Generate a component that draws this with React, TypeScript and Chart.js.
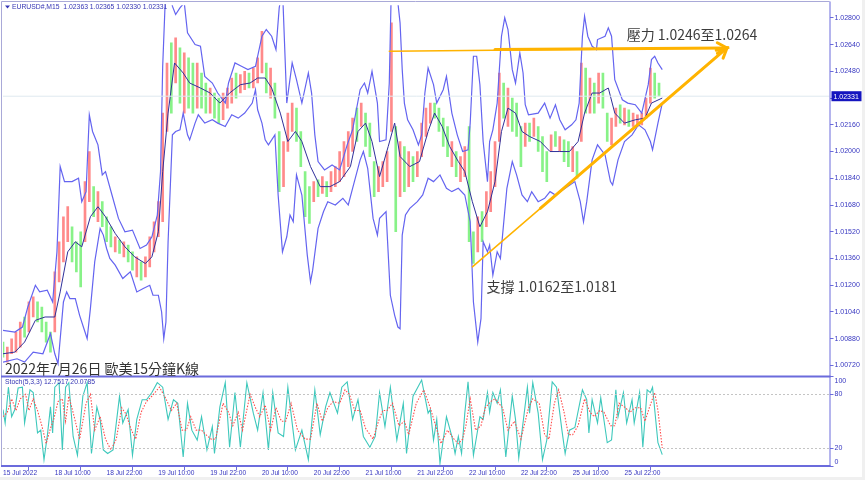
import React, { useEffect, useRef } from 'react';
import { Chart, registerables } from 'chart.js';

Chart.register(...registerables);

// ---------------- texts ----------------
const chartTitle = 'EURUSD#,M15  1.02363 1.02365 1.02330 1.02331';
const chartCaption = '2022年7月26日 歐美15分鐘K線';
const stochTitle = 'Stoch(5,3,3) 12.7517 20.0785';
const resistText = '壓力 1.0246至1.0264';
const supportText = '支撐 1.0162至1.0181';
const lastClose = 1.02331;

// ---------------- axes ----------------
const timeTickIdx = [0, 48, 96, 144, 192, 240, 288, 336, 384, 432, 480, 528, 576];
const timeLabels = [
  '15 Jul 2022', '18 Jul 10:00', '18 Jul 22:00', '19 Jul 10:00', '19 Jul 22:00',
  '20 Jul 10:00', '20 Jul 22:00', '21 Jul 10:00', '21 Jul 22:00', '22 Jul 10:00',
  '22 Jul 22:00', '25 Jul 10:00', '25 Jul 22:00',
];
const priceTicks = [1.0072, 1.0088, 1.0104, 1.012, 1.0136, 1.0152, 1.0168, 1.0184, 1.02, 1.0216, 1.0232, 1.0248, 1.0264, 1.028];
const stochTicks = [0, 20, 80, 100];
const stochLevels = [80, 20];

// ---------------- candles (hourly groups of M15 bars) ----------------
const barsPerCandle = 4;
const candleOpen = [
  1.0086, 1.0074, 1.0079, 1.0080, 1.0083, 1.0101, 1.0092, 1.0101, 1.0110, 1.0107,
  1.0098, 1.0092, 1.0092, 1.0122, 1.0134, 1.0146, 1.0155, 1.0146, 1.0152, 1.0146,
  1.0170, 1.0179, 1.0158, 1.0170, 1.0161, 1.0155, 1.0140, 1.0147, 1.0137, 1.0144,
  1.0140, 1.0125, 1.0134, 1.0125, 1.0131, 1.0140, 1.0149, 1.0158, 1.0212, 1.0265,
  1.0241, 1.0262, 1.0223, 1.0256, 1.0253, 1.0226, 1.0247, 1.0241, 1.0223, 1.0235,
  1.0232, 1.0219, 1.0226, 1.0229, 1.0247, 1.0235, 1.0237, 1.0247, 1.0238, 1.0241,
  1.0247, 1.0253, 1.0232, 1.0241, 1.0212, 1.0179, 1.0200, 1.0212, 1.0226, 1.0212,
  1.0188, 1.0179, 1.0170, 1.0183, 1.0175, 1.0182, 1.0176, 1.0179, 1.0182, 1.0185,
  1.0191, 1.0200, 1.0226, 1.0215, 1.0223, 1.0217, 1.0194, 1.0176, 1.0179, 1.0182,
  1.0212, 1.0215, 1.0173, 1.0203, 1.0179, 1.0197, 1.0185, 1.0197, 1.0209, 1.0217,
  1.0229, 1.0226, 1.0220, 1.0215, 1.0191, 1.0200, 1.0182, 1.0185, 1.0215, 1.0152,
  1.0140, 1.0164, 1.0155, 1.0164, 1.0179, 1.0206, 1.0241, 1.0215, 1.0232, 1.0229,
  1.0215, 1.0203, 1.0217, 1.0209, 1.0215, 1.0209, 1.0200, 1.0200, 1.0212, 1.0200,
  1.0207, 1.0206, 1.0188, 1.0200, 1.0206, 1.0250, 1.0223, 1.0241, 1.0229, 1.0247,
  1.0223, 1.0204, 1.0215, 1.0228, 1.0216, 1.0225, 1.0215, 1.0215, 1.0216, 1.0220,
  1.0229, 1.0247, 1.0241,
];
const candleClose = [
  1.0077, 1.0083, 1.0088, 1.0092, 1.0098, 1.0089, 1.0110, 1.0113, 1.0098, 1.0092,
  1.0086, 1.0080, 1.0128, 1.0146, 1.0161, 1.0167, 1.0134, 1.0128, 1.0119, 1.0182,
  1.0200, 1.0161, 1.0176, 1.0155, 1.0146, 1.0143, 1.0149, 1.0139, 1.0146, 1.0134,
  1.0129, 1.0137, 1.0123, 1.0137, 1.0149, 1.0158, 1.0170, 1.0223, 1.0253, 1.0223,
  1.0268, 1.0229, 1.0259, 1.0226, 1.0223, 1.0253, 1.0226, 1.0223, 1.0238, 1.0220,
  1.0217, 1.0235, 1.0238, 1.0244, 1.0232, 1.0246, 1.0248, 1.0238, 1.0250, 1.0256,
  1.0272, 1.0235, 1.0250, 1.0220, 1.0176, 1.0206, 1.0223, 1.0229, 1.0206, 1.0191,
  1.0161, 1.0157, 1.0182, 1.0173, 1.0185, 1.0173, 1.0188, 1.0191, 1.0200, 1.0206,
  1.0212, 1.0220, 1.0206, 1.0229, 1.0203, 1.0197, 1.0173, 1.0191, 1.0194, 1.0200,
  1.0277, 1.0152, 1.0206, 1.0176, 1.0200, 1.0182, 1.0200, 1.0217, 1.0226, 1.0229,
  1.0220, 1.0212, 1.0203, 1.0197, 1.0206, 1.0185, 1.0197, 1.0203, 1.0146, 1.0133,
  1.0161, 1.0146, 1.0176, 1.0188, 1.0206, 1.0247, 1.0220, 1.0238, 1.0212, 1.0209,
  1.0191, 1.0217, 1.0206, 1.0220, 1.0200, 1.0188, 1.0182, 1.0210, 1.0203, 1.0209,
  1.0194, 1.0191, 1.0203, 1.0184, 1.0253, 1.0223, 1.0244, 1.0223, 1.0247, 1.0226,
  1.0206, 1.0220, 1.0226, 1.0217, 1.0226, 1.0215, 1.0223, 1.0222, 1.0223, 1.0232,
  1.0250, 1.0232, 1.02331,
];

// ---------------- Bollinger bands: [M15 bar index, price] ----------------
const upperBand = [
  [0, 1.0093], [11, 1.0092], [18, 1.0095], [23, 1.0107], [30, 1.012], [34, 1.0116], [41, 1.0117], [46, 1.011],
  [50, 1.014], [53, 1.0191], [57, 1.0182], [64, 1.0182], [70, 1.0184], [73, 1.017], [77, 1.0176], [80, 1.0222],
  [83, 1.0212], [88, 1.0204], [92, 1.0186], [95, 1.0188], [101, 1.0174], [107, 1.016], [113, 1.0152], [120, 1.0153],
  [127, 1.0142], [133, 1.0144], [138, 1.0149], [143, 1.0162], [146, 1.0188], [148, 1.0251], [151, 1.0301], [155, 1.0295],
  [157, 1.0287], [160, 1.0282], [164, 1.0286], [168, 1.0289], [171, 1.0271], [178, 1.0264], [183, 1.0263], [187, 1.0245],
  [194, 1.0241], [199, 1.0235], [206, 1.0229], [209, 1.0241], [215, 1.0253], [221, 1.0251], [227, 1.0249], [234, 1.0251],
  [240, 1.0269], [244, 1.0273], [249, 1.0269], [253, 1.0261], [256, 1.0286], [259, 1.0298], [263, 1.0229], [268, 1.0253],
  [272, 1.0243], [277, 1.0229], [283, 1.0247], [286, 1.0235], [289, 1.021], [292, 1.0194], [298, 1.0189], [305, 1.0192],
  [312, 1.0189], [319, 1.0204], [324, 1.0213], [331, 1.0237], [335, 1.0241], [338, 1.0235], [342, 1.0248], [347, 1.0229],
  [349, 1.0206], [355, 1.0207], [358, 1.0241], [360, 1.0301], [364, 1.0301], [368, 1.0277], [370, 1.0249], [372, 1.0229],
  [375, 1.0219], [380, 1.0213], [385, 1.0204], [388, 1.021], [391, 1.0235], [394, 1.025], [399, 1.024], [402, 1.0229],
  [408, 1.0237], [411, 1.0245], [416, 1.0223], [421, 1.021], [426, 1.02], [431, 1.0201], [433, 1.0217], [436, 1.0257],
  [439, 1.0257], [442, 1.024], [445, 1.0206], [449, 1.0182], [451, 1.0206], [454, 1.0213], [458, 1.0229], [462, 1.0269],
  [465, 1.028], [468, 1.0273], [472, 1.0249], [475, 1.0241], [479, 1.0259], [482, 1.0247], [484, 1.0228], [487, 1.0222],
  [496, 1.0223], [502, 1.0229], [507, 1.022], [512, 1.0228], [516, 1.0219], [521, 1.0213], [527, 1.0216], [531, 1.0219],
  [534, 1.0229], [537, 1.0269], [539, 1.0281], [542, 1.0269], [546, 1.0263], [550, 1.0261], [551, 1.0267], [558, 1.0269],
  [561, 1.0274], [564, 1.0269], [567, 1.0243], [574, 1.0231], [579, 1.0229], [586, 1.0228], [592, 1.0223], [598, 1.024],
  [601, 1.0255], [604, 1.0257], [607, 1.0253], [611, 1.0249],
];
const middleBand = [
  [0, 1.0079], [11, 1.008], [20, 1.0086], [30, 1.0099], [39, 1.0101], [48, 1.0101], [53, 1.0116], [60, 1.014],
  [67, 1.0146], [73, 1.0143], [81, 1.0161], [88, 1.0167], [95, 1.0161], [104, 1.0151], [113, 1.0143], [122, 1.0137],
  [132, 1.0133], [138, 1.0137], [144, 1.0152], [148, 1.0188], [153, 1.0223], [159, 1.0253], [167, 1.0247], [173, 1.0241],
  [183, 1.0238], [192, 1.0235], [201, 1.0229], [210, 1.0235], [220, 1.024], [229, 1.0241], [236, 1.0244], [243, 1.0244],
  [249, 1.0238], [257, 1.0223], [264, 1.0206], [271, 1.0212], [277, 1.0206], [285, 1.0191], [294, 1.0179], [303, 1.0179],
  [312, 1.0182], [322, 1.0191], [329, 1.0212], [336, 1.0217], [342, 1.0206], [349, 1.0185], [357, 1.0203], [363, 1.0217],
  [368, 1.0197], [377, 1.0191], [386, 1.0194], [394, 1.0212], [400, 1.0223], [407, 1.0215], [414, 1.0203], [422, 1.0194],
  [428, 1.0188], [435, 1.017], [442, 1.0155], [449, 1.0164], [456, 1.0182], [462, 1.0212], [468, 1.0226], [475, 1.0223],
  [481, 1.0212], [488, 1.0209], [498, 1.0206], [507, 1.02], [516, 1.02], [525, 1.02], [533, 1.0206], [539, 1.0223],
  [546, 1.0235], [553, 1.0235], [561, 1.0238], [567, 1.0223], [576, 1.0217], [586, 1.0219], [595, 1.022], [601, 1.0229],
  [611, 1.0232],
];
const lowerBand = [
  [0, 1.0074], [13, 1.0076], [20, 1.0074], [28, 1.008], [37, 1.0079], [44, 1.0091], [48, 1.0079], [51, 1.0073],
  [56, 1.011], [59, 1.0116], [62, 1.0112], [67, 1.0112], [71, 1.0102], [76, 1.0092], [78, 1.0088], [81, 1.0106],
  [85, 1.0134], [90, 1.0154], [93, 1.015], [96, 1.0142], [99, 1.0136], [104, 1.0132], [111, 1.0124], [118, 1.0128],
  [124, 1.0116], [130, 1.0118], [136, 1.012], [139, 1.0114], [144, 1.0114], [147, 1.0104], [149, 1.0088], [151, 1.0098],
  [153, 1.0146], [157, 1.021], [160, 1.0212], [164, 1.0213], [167, 1.0223], [171, 1.021], [173, 1.0207], [178, 1.0217],
  [181, 1.0222], [187, 1.0217], [194, 1.0219], [199, 1.0217], [206, 1.0215], [212, 1.0222], [218, 1.022], [224, 1.0223],
  [231, 1.0229], [234, 1.0237], [236, 1.0225], [240, 1.0217], [243, 1.0207], [246, 1.0204], [252, 1.021], [255, 1.0174],
  [259, 1.014], [263, 1.0149], [266, 1.0162], [269, 1.0158], [272, 1.0186], [277, 1.0174], [282, 1.0138], [285, 1.0122],
  [287, 1.0129], [292, 1.0154], [297, 1.0164], [301, 1.017], [308, 1.0168], [315, 1.0172], [320, 1.0168], [324, 1.0178],
  [331, 1.0195], [334, 1.02], [338, 1.019], [343, 1.016], [347, 1.015], [349, 1.016], [355, 1.0164], [359, 1.0114],
  [363, 1.0102], [366, 1.0095], [368, 1.0094], [370, 1.015], [373, 1.0162], [377, 1.0166], [384, 1.017], [389, 1.0174],
  [394, 1.0184], [399, 1.0182], [405, 1.0186], [411, 1.0178], [416, 1.0176], [422, 1.0178], [428, 1.0174], [433, 1.0158],
  [436, 1.011], [440, 1.0086], [443, 1.01], [445, 1.0146], [449, 1.014], [451, 1.0144], [454, 1.0126], [458, 1.014],
  [461, 1.0136], [463, 1.015], [467, 1.0178], [472, 1.0194], [476, 1.0186], [481, 1.0174], [486, 1.017], [490, 1.0176],
  [496, 1.017], [502, 1.0172], [507, 1.0176], [512, 1.0174], [521, 1.0178], [530, 1.0182], [535, 1.017], [538, 1.0158],
  [541, 1.017], [546, 1.0195], [551, 1.0204], [558, 1.0198], [563, 1.0182], [565, 1.018], [570, 1.0195], [576, 1.0206],
  [583, 1.021], [589, 1.0216], [595, 1.0213], [600, 1.0206], [602, 1.0201], [607, 1.0217], [611, 1.0229],
];

// ---------------- Stochastic (5,3,3): [M15 bar index, value] ----------------
const stochMain = [
  [0, 63], [2, 48], [5, 88], [8, 55], [11, 63], [14, 87], [18, 88], [20, 48], [25, 85], [28, 82], [32, 37], [35, 40],
  [38, 7], [41, 33], [44, 66], [46, 37], [48, 88], [52, 93], [55, 18], [58, 88], [61, 93], [65, 33], [69, 12], [74, 78],
  [78, 93], [82, 14], [87, 66], [90, 52], [93, 18], [97, 14], [102, 18], [108, 78], [111, 48], [116, 63], [120, 12],
  [124, 52], [129, 74], [133, 74], [138, 82], [143, 93], [148, 88], [153, 52], [158, 74], [162, 70], [167, 10], [171, 70],
  [175, 40], [180, 29], [184, 55], [189, 18], [194, 44], [196, 14], [201, 66], [206, 93], [210, 21], [215, 82], [220, 21],
  [226, 93], [232, 59], [236, 40], [241, 82], [246, 18], [250, 82], [255, 37], [260, 33], [264, 88], [271, 18], [277, 40],
  [283, 7], [289, 85], [294, 35], [299, 66], [303, 82], [310, 59], [314, 88], [319, 94], [324, 52], [329, 74], [334, 33],
  [340, 21], [345, 33], [349, 82], [354, 44], [359, 88], [365, 29], [371, 70], [374, 14], [380, 78], [388, 96], [394, 59],
  [396, 63], [399, 29], [402, 52], [405, 3], [411, 55], [416, 33], [419, 14], [422, 33], [425, 14], [428, 59], [431, 94],
  [436, 12], [442, 55], [445, 52], [449, 82], [451, 60], [454, 82], [458, 70], [461, 85], [466, 10], [472, 78], [475, 52],
  [478, 9], [486, 88], [488, 59], [491, 93], [496, 59], [500, 7], [504, 29], [509, 94], [513, 88], [518, 40], [521, 14],
  [525, 40], [530, 43], [537, 85], [541, 74], [543, 37], [546, 74], [551, 48], [554, 76], [560, 26], [564, 29], [568, 85],
  [570, 55], [575, 82], [578, 48], [583, 74], [585, 48], [590, 82], [593, 21], [597, 85], [600, 82], [602, 88], [607, 26],
  [611, 12.7517],
];
const stochSignal = [
  [0, 55], [4, 60], [8, 75], [12, 62], [16, 75], [21, 80], [24, 62], [28, 75], [32, 62], [36, 45], [40, 25], [44, 42],
  [47, 52], [51, 72], [55, 75], [58, 50], [61, 78], [66, 55], [71, 30], [77, 70], [81, 80], [85, 40], [90, 55], [95, 30],
  [100, 18], [105, 30], [110, 65], [114, 58], [119, 40], [123, 30], [128, 60], [133, 72], [138, 78], [145, 88], [151, 75],
  [156, 62], [161, 70], [166, 40], [170, 40], [174, 55], [179, 40], [184, 40], [188, 35], [193, 30], [197, 30], [204, 70],
  [209, 60], [213, 45], [218, 60], [222, 40], [229, 80], [234, 65], [238, 55], [243, 68], [248, 40], [253, 65], [258, 50],
  [262, 50], [267, 70], [273, 40], [280, 30], [285, 30], [291, 70], [296, 50], [301, 65], [306, 72], [312, 70], [317, 85],
  [321, 80], [326, 62], [331, 62], [336, 42], [343, 30], [348, 50], [352, 62], [356, 62], [361, 70], [367, 45], [372, 50],
  [376, 35], [383, 70], [390, 85], [396, 65], [401, 45], [406, 25], [412, 40], [418, 30], [422, 25], [426, 30], [429, 45],
  [433, 75], [438, 40], [443, 45], [447, 65], [452, 72], [456, 75], [463, 65], [468, 40], [474, 50], [480, 30], [487, 65],
  [491, 75], [497, 70], [502, 35], [506, 30], [511, 70], [515, 85], [520, 60], [524, 35], [528, 35], [533, 45], [539, 75],
  [544, 60], [548, 55], [553, 62], [557, 60], [563, 45], [567, 45], [571, 70], [577, 65], [581, 60], [586, 65], [591, 65],
  [595, 50], [599, 65], [604, 82], [607, 62], [611, 20.0785],
];

// ---------------- drawn trend lines: [bar index, price] ----------------
const resistThin = [[358, 1.026], [671, 1.0262]];
const resistArrow = [[456, 1.0261], [671, 1.0262]];
const supportThin = [[435, 1.0131], [671, 1.0262]];
const supportArrow = [[498, 1.0166], [671, 1.0262]];
const resistTextPos = [578, 1.027];
const supportTextPos = [448, 1.0119];

const AXIS = '#6b6bdc';
const TEXT = '#3636c0';
const UP = '#ff8a8a';
const DOWN = '#88f288';
const BAND = '#6464f0';
const MID = '#30309a';
const STOCH = '#3ec8bc';
const SIGNAL = '#ff4c4c';
const AMBER = '#ffb300';
const SMALL = '"Liberation Sans", Arial, sans-serif';
const CJK = '"Noto Sans CJK TC", "Noto Sans CJK SC", sans-serif';

export default function App() {
  const ref = useRef<HTMLCanvasElement | null>(null);

  useEffect(() => {
    document.body.style.margin = '0';
    const canvas = ref.current;
    if (!canvas) return;

    const pts = (arr: number[][]) => arr.map(([x, y]) => ({ x, y }));
    const candles = candleOpen.map((o, i) => ({ x: i * barsPerCandle, y: [o, candleClose[i]] }));

    const arrowHead = (ctx: any, x1: number, y1: number, x2: number, y2: number, len: number) => {
      const a = Math.atan2(y2 - y1, x2 - x1);
      ctx.beginPath();
      ctx.moveTo(x2 - len * Math.cos(a - 0.5), y2 - len * Math.sin(a - 0.5));
      ctx.lineTo(x2, y2);
      ctx.lineTo(x2 - len * Math.cos(a + 0.5), y2 - len * Math.sin(a + 0.5));
      ctx.stroke();
    };

    const decor = {
      id: 'decor',
      beforeDraw(chart: any) {
        const { ctx, width, height } = chart;
        ctx.save();
        ctx.fillStyle = '#ffffff';
        ctx.fillRect(0, 0, width, height);
        ctx.fillStyle = '#f0f0f0';
        ctx.fillRect(862, 0, width - 862, height);
        ctx.fillRect(0, 477, width, height - 477);
        ctx.restore();
      },
      afterDatasetsDraw(chart: any) {
        const { ctx } = chart;
        const x = chart.scales.x;
        const y = chart.scales.y;
        const px = (p: number[]) => [x.getPixelForValue(p[0]), y.getPixelForValue(p[1])];
        ctx.save();
        ctx.beginPath();
        ctx.rect(x.left, y.top, x.right - x.left, y.bottom - y.top);
        ctx.clip();
        const cy = y.getPixelForValue(lastClose);
        ctx.strokeStyle = '#dfe9ef';
        ctx.lineWidth = 1;
        ctx.beginPath();
        ctx.moveTo(x.left, cy);
        ctx.lineTo(x.right, cy);
        ctx.stroke();
        ctx.strokeStyle = AMBER;
        ctx.lineCap = 'round';
        const seg = (line: number[][], w: number) => {
          const [a1, b1] = px(line[0]);
          const [a2, b2] = px(line[1]);
          ctx.lineWidth = w;
          ctx.beginPath();
          ctx.moveTo(a1, b1);
          ctx.lineTo(a2, b2);
          ctx.stroke();
          return [a1, b1, a2, b2];
        };
        seg(resistThin, 1.5);
        seg(supportThin, 1.5);
        const r = seg(resistArrow, 3);
        const s = seg(supportArrow, 3);
        ctx.lineWidth = 3;
        arrowHead(ctx, r[0], r[1], r[2], r[3], 11);
        arrowHead(ctx, s[0], s[1], s[2], s[3], 11);
        ctx.fillStyle = '#3c3c3c';
        ctx.font = `14px ${CJK}`;
        ctx.textAlign = 'left';
        ctx.textBaseline = 'middle';
        const [tx1, ty1] = px(resistTextPos);
        ctx.fillText(resistText, tx1, ty1);
        const [tx2, ty2] = px(supportTextPos);
        ctx.fillText(supportText, tx2, ty2);
        ctx.restore();
      },
      afterDraw(chart: any) {
        const { ctx } = chart;
        const x = chart.scales.x;
        const y = chart.scales.y;
        const y2 = chart.scales.y2;
        ctx.save();
        ctx.strokeStyle = '#c4c4c4';
        ctx.lineWidth = 1;
        ctx.setLineDash([2, 2]);
        stochLevels.forEach((lv) => {
          const ly = Math.round(y2.getPixelForValue(lv)) + 0.5;
          ctx.beginPath();
          ctx.moveTo(x.left, ly);
          ctx.lineTo(x.right, ly);
          ctx.stroke();
        });
        ctx.setLineDash([]);
        ctx.strokeStyle = '#a9a9d8';
        ctx.beginPath();
        ctx.moveTo(1.5, 1.5);
        ctx.lineTo(1.5, y2.bottom);
        ctx.moveTo(1.5, 1.5);
        ctx.lineTo(x.right, 1.5);
        ctx.stroke();
        ctx.strokeStyle = AXIS;
        ctx.lineWidth = 1;
        ctx.beginPath();
        ctx.moveTo(x.right + 0.5, 1.5);
        ctx.lineTo(x.right + 0.5, y2.bottom + 1);
        ctx.stroke();
        ctx.lineWidth = 2;
        ctx.beginPath();
        ctx.moveTo(1, y.bottom);
        ctx.lineTo(x.right + 1, y.bottom);
        ctx.moveTo(1, y2.bottom);
        ctx.lineTo(x.right + 1, y2.bottom);
        ctx.stroke();
        ctx.fillStyle = TEXT;
        ctx.font = `7px ${SMALL}`;
        ctx.textAlign = 'left';
        ctx.textBaseline = 'middle';
        stochTicks.forEach((t) => {
          const ty = Math.min(Math.max(y2.getPixelForValue(t), y2.top + 5), y2.bottom - 4);
          ctx.fillText(String(t), x.right + 5, ty);
        });
        const cy = y.getPixelForValue(lastClose);
        ctx.fillStyle = '#1515bf';
        ctx.fillRect(x.right + 2, cy - 5, 30, 10);
        ctx.fillStyle = '#ffffff';
        ctx.fillText(lastClose.toFixed(5), x.right + 4, cy + 0.5);
        ctx.fillStyle = '#3434b4';
        ctx.font = `6.8px ${SMALL}`;
        ctx.fillText(chartTitle, 12, 7.5);
        ctx.fillText(stochTitle, 5, y2.top + 5.5);
        ctx.beginPath();
        ctx.moveTo(5, 5.5);
        ctx.lineTo(10, 5.5);
        ctx.lineTo(7.5, 8.5);
        ctx.closePath();
        ctx.fill();
        ctx.fillStyle = '#333333';
        ctx.font = `14px ${CJK}`;
        ctx.fillText(chartCaption, 5, y.bottom - 8);
        ctx.restore();
      },
    };

    const chart = new Chart(canvas, {
      type: 'line',
      data: {
        datasets: [
          { type: 'line', data: pts(middleBand), borderColor: MID, borderWidth: 1, pointRadius: 0, fill: false, yAxisID: 'y', order: 1 },
          { type: 'line', data: pts(upperBand), borderColor: BAND, borderWidth: 1.2, pointRadius: 0, fill: false, yAxisID: 'y', order: 2 },
          { type: 'line', data: pts(lowerBand), borderColor: BAND, borderWidth: 1.2, pointRadius: 0, fill: false, yAxisID: 'y', order: 2 },
          {
            type: 'bar',
            data: candles as any,
            yAxisID: 'y',
            order: 10,
            grouped: false,
            barThickness: 2,
            borderWidth: 0,
            backgroundColor: candles.map((c) => (c.y[1] >= c.y[0] ? UP : DOWN)),
          },
          { type: 'line', data: pts(stochSignal), borderColor: SIGNAL, borderWidth: 1.1, borderDash: [1.5, 1.5], pointRadius: 0, fill: false, yAxisID: 'y2', order: 3 },
          { type: 'line', data: pts(stochMain), borderColor: STOCH, borderWidth: 1.1, pointRadius: 0, fill: false, yAxisID: 'y2', order: 4 },
        ] as any,
      },
      options: {
        responsive: false,
        animation: false,
        events: [],
        layout: { padding: { left: 3, top: 3, right: 0, bottom: 0 }, autoPadding: false },
        plugins: { legend: { display: false }, tooltip: { enabled: false } },
        scales: {
          x: {
            type: 'linear',
            min: 0,
            max: 766,
            offset: false,
            border: { display: false },
            grid: { display: true, drawOnChartArea: false, drawTicks: true, tickLength: 4, color: AXIS, tickColor: AXIS },
            afterBuildTicks: (s: any) => { s.ticks = timeTickIdx.map((v) => ({ value: v })); },
            afterFit: (s: any) => { s.height = 14; },
            ticks: {
              autoSkip: false,
              maxRotation: 0,
              align: 'start',
              padding: -1,
              color: TEXT,
              font: { family: SMALL, size: 6.6 },
              callback: (_v: any, i: number) => timeLabels[i],
            },
          },
          y: {
            type: 'linear',
            position: 'right',
            stack: 'panes',
            stackWeight: 373,
            min: 1.006544,
            max: 1.028756,
            border: { display: false },
            grid: { display: true, drawOnChartArea: false, drawTicks: true, tickLength: 4, color: AXIS, tickColor: AXIS },
            afterBuildTicks: (s: any) => { s.ticks = priceTicks.map((v) => ({ value: v })); },
            afterFit: (s: any) => { s.width = 35.5; },
            ticks: {
              padding: 1,
              color: TEXT,
              font: { family: SMALL, size: 7 },
              callback: (v: any) => Number(v).toFixed(5),
            },
          },
          y2: {
            type: 'linear',
            position: 'right',
            stack: 'panes',
            stackWeight: 90,
            min: 0,
            max: 100,
            border: { display: false },
            grid: { display: true, drawOnChartArea: false, drawTicks: true, tickLength: 4, color: AXIS, tickColor: AXIS },
            afterBuildTicks: (s: any) => { s.ticks = stochTicks.map((v) => ({ value: v })); },
            afterFit: (s: any) => { s.width = 35.5; },
            ticks: { display: false },
          },
        } as any,
      },
      plugins: [decor],
    });

    return () => chart.destroy();
  }, []);

  return (
    <div style={{ width: 865, height: 480 }}>
      <canvas ref={ref} width={865} height={480} style={{ display: 'block' }} />
    </div>
  );
}
